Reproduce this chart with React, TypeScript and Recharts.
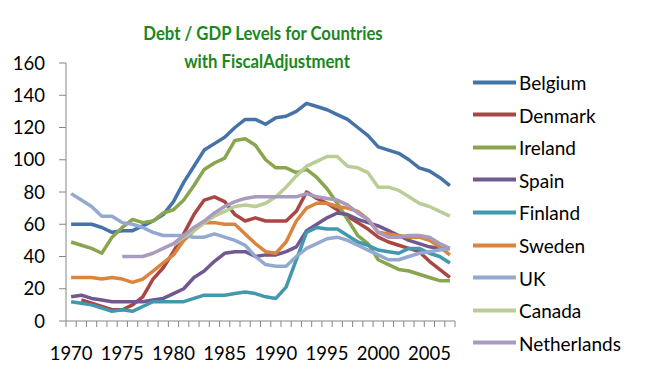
import React from 'react';
import { LineChart, Line, XAxis, YAxis } from 'recharts';

const years = [
  1970, 1971, 1972, 1973, 1974, 1975, 1976, 1977, 1978, 1979,
  1980, 1981, 1982, 1983, 1984, 1985, 1986, 1987, 1988, 1989,
  1990, 1991, 1992, 1993, 1994, 1995, 1996, 1997, 1998, 1999,
  2000, 2001, 2002, 2003, 2004, 2005, 2006, 2007,
];

const belgium = [60, 60, 60, 58, 55, 56, 56, 59, 62, 66, 74, 86, 96, 106, 110, 114, 120, 125, 125, 122, 126, 127, 130, 135, 133, 131, 128, 125, 120, 115, 108, 106, 104, 100, 95, 93, 89, 84];
const denmark = [null, 13, 11, 9, 7, 7, 10, 15, 26, 33, 43, 54, 66, 75, 77, 74, 66, 62, 64, 62, 62, 62, 68, 80, 76, 73, 69, 65, 61, 57, 52, 49, 47, 45, 43, 37, 32, 27];
const ireland = [49, 47, 45, 42, 52, 58, 63, 61, 62, 67, 69, 75, 84, 94, 98, 101, 112, 113, 109, 100, 95, 95, 92, 94, 89, 82, 73, 63, 53, 48, 38, 35, 32, 31, 29, 27, 25, 25];
const spain = [15, 16, 14, 13, 12, 12, 12, 12, 13, 14, 17, 20, 27, 31, 37, 42, 43, 43, 40, 41, 41, 43, 46, 56, 60, 64, 67, 66, 63, 61, 59, 56, 53, 50, 48, 46, 45, 45];
const finland = [12, 11, 10, 8, 6, 7, 6, 9, 12, 12, 12, 12, 14, 16, 16, 16, 17, 18, 17, 15, 14, 21, 38, 55, 58, 57, 57, 53, 49, 47, 44, 43, 42, 45, 45, 42, 40, 36];
const sweden = [27, 27, 27, 26, 27, 26, 24, 26, 31, 36, 41, 50, 56, 61, 61, 60, 60, 54, 48, 43, 42, 49, 62, 70, 73, 73, 71, 70, 68, 63, 55, 54, 53, 52, 52, 50, 46, 41];
const uk = [79, 75, 71, 65, 65, 61, 60, 58, 55, 53, 53, 53, 52, 52, 54, 52, 50, 47, 40, 35, 34, 34, 40, 45, 48, 51, 52, 50, 47, 44, 41, 38, 38, 40, 42, 43, 44, 45];
const canada = [null, null, null, null, null, null, null, null, null, null, 47, 52, 56, 61, 65, 68, 71, 72, 71, 73, 77, 83, 90, 96, 99, 102, 102, 96, 95, 92, 83, 83, 81, 77, 73, 71, 68, 65];
const netherlands = [null, null, null, null, null, 40, 40, 40, 42, 45, 48, 53, 58, 62, 67, 71, 74, 76, 77, 77, 77, 77, 77, 79, 77, 76, 75, 72, 67, 63, 55, 52, 52, 53, 53, 52, 48, 45];

const countries = ['Belgium', 'Denmark', 'Ireland', 'Spain', 'Finland', 'Sweden', 'UK', 'Canada', 'Netherlands'];
const values = [belgium, denmark, ireland, spain, finland, sweden, uk, canada, netherlands];
const colors = ['#4572A7', '#AA4643', '#89A54E', '#71588F', '#4198AF', '#DB843D', '#93A9CF', '#B9CD96', '#A99BBD'];
const yTicks = [0, 20, 40, 60, 80, 100, 120, 140, 160];

const data = years.map((year, i) => {
  const row: Record<string, number | null> = { year };
  countries.forEach((c, k) => { row[c] = values[k][i]; });
  return row;
});

const FONT = 'Lato, "Liberation Sans", sans-serif';
const AXIS = '#868686';
const TITLE = '#1C871C';
const PLOT_LEFT = 66;
const PLOT_RIGHT = 455;
const BAND = (PLOT_RIGHT - PLOT_LEFT) / years.length;

const YearTick = (props: any) => {
  const { x, y, payload } = props;
  const year = Number(payload.value);
  const half = BAND / 2;
  return (
    <g>
      <line x1={x - half} x2={x - half} y1={y} y2={y + 6} stroke={AXIS} />
      {year === years[years.length - 1] && (
        <line x1={x + half} x2={x + half} y1={y} y2={y + 6} stroke={AXIS} />
      )}
      {year % 5 === 0 && (
        <text x={x} y={y + 32} textAnchor="middle" dominantBaseline="central"
          fontFamily={FONT} fontSize={18.5} fill="#000">
          {year}
        </text>
      )}
    </g>
  );
};

const titleStyle = (cx: number, cy: number): React.CSSProperties => ({
  position: 'absolute', left: cx, top: cy, transform: 'translate(-50%, -50%) scaleX(0.88)',
  color: TITLE, fontWeight: 700, fontSize: 19, whiteSpace: 'nowrap',
});

export default function App() {
  return (
    <div style={{ position: 'absolute', left: 0, top: 0, width: 648, height: 381, background: '#fff', fontFamily: FONT }}>
      <div style={titleStyle(263, 32)}>Debt / GDP Levels for Countries</div>
      <div style={titleStyle(267, 60)}>with FiscalAdjustment</div>
      <LineChart width={648} height={381} data={data} margin={{ top: 63, right: 648 - PLOT_RIGHT, bottom: 20, left: 0 }}>
        <XAxis dataKey="year" interval={0} tick={<YearTick />} tickLine={false} tickSize={0} tickMargin={0}
          height={40} padding={{ left: BAND / 2, right: BAND / 2 }} stroke={AXIS} />
        <YAxis domain={[0, 160]} ticks={yTicks} width={PLOT_LEFT} tickSize={7} tickMargin={14}
          stroke={AXIS} tick={{ fill: '#000', fontSize: 18.5, fontFamily: FONT }} />
        {countries.map((c, k) => (
          <Line key={c} type="linear" dataKey={c} stroke={colors[k]} strokeWidth={3.5} dot={false}
            activeDot={false} strokeLinejoin="round" isAnimationActive={false} />
        ))}
      </LineChart>
      {countries.map((c, k) => (
        <div key={c} style={{ position: 'absolute', left: 473, top: 82 + k * 32.6, transform: 'translateY(-50%)', display: 'flex', alignItems: 'center', fontSize: 19, color: '#000' }}>
          <span style={{ display: 'inline-block', width: 43, height: 4, background: colors[k], marginRight: 3 }} />
          <span>{c}</span>
        </div>
      ))}
    </div>
  );
}
